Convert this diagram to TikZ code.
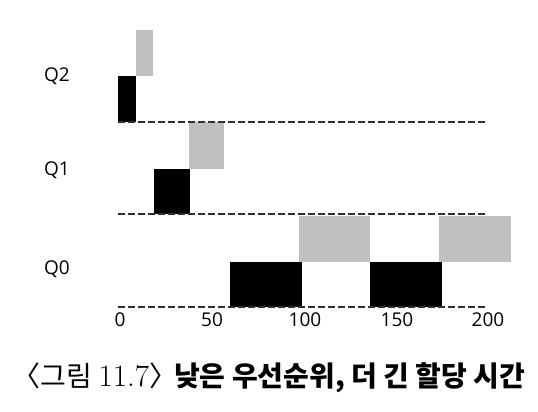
\documentclass[tikz,border=0pt]{standalone}
\usepackage{fontspec}
\setmainfont{Latin Modern Roman}
\newfontfamily\labfont{Open Sans}
\newfontfamily\krfont{Noto Sans CJK KR}
\definecolor{slicegray}{HTML}{C0C0C0}
\definecolor{dashgray}{HTML}{303030}
\tikzset{
  qlabel/.style={font=\labfont\fontsize{19}{21}\selectfont, inner sep=0pt},
  ticklabel/.style={font=\labfont\fontsize{19}{21}\selectfont, inner sep=0pt},
  qline/.style={draw=dashgray, line width=1.7pt, dash pattern=on 7pt off 3pt},
  run/.style={fill=black},
  wait/.style={fill=slicegray},
}
\begin{document}
\begin{tikzpicture}[x=1pt,y=-1pt]
\useasboundingbox (0,0) rectangle (538,412);
% queue labels
\node[qlabel] (q2) at (57,76) {Q2};
\node[qlabel] (q1) at (57,170) {Q1};
\node[qlabel] (q0) at (57,269) {Q0};
% Q2
\fill[wait] (136,30) rectangle (153,76);
\fill[run] (118,76) rectangle (136,122);
% Q1
\fill[wait] (189,122) rectangle (224,169);
\fill[run] (154,169) rectangle (189.5,214);
% Q0
\fill[wait] (299,216) rectangle (370,262);
\fill[wait] (439,216) rectangle (511,262);
\fill[run] (230,262) rectangle (301.5,307);
\fill[run] (370,262) rectangle (442,307);
% dashed lines
\coordinate (l2a) at (118,122); \coordinate (l2b) at (488,122);
\coordinate (l1a) at (118,214); \coordinate (l1b) at (488,214);
\coordinate (l0a) at (118,307); \coordinate (l0b) at (488,307);
\draw[qline] (l2a) -- (l2b);
\draw[qline] (l1a) -- (l1b);
\draw[qline] (l0a) -- (l0b);
% tick labels
\node[ticklabel] (t0) at (120,320) {0};
\node[ticklabel] (t50) at (212,320) {50};
\node[ticklabel] (t100) at (305,320) {100};
\node[ticklabel] (t150) at (397,320) {150};
\node[ticklabel] (t200) at (488,320) {200};
% caption
\node[inner sep=0pt, font=\fontsize{28}{31}\selectfont] (cap) at (269,378)
  {\krfont 〈그림 {\rmfamily\fontsize{31}{33}\selectfont 11.7}〉\hspace{-3pt}\bfseries 낮은 우선순위, 더 긴 할당 시간};
\end{tikzpicture}
\end{document}
